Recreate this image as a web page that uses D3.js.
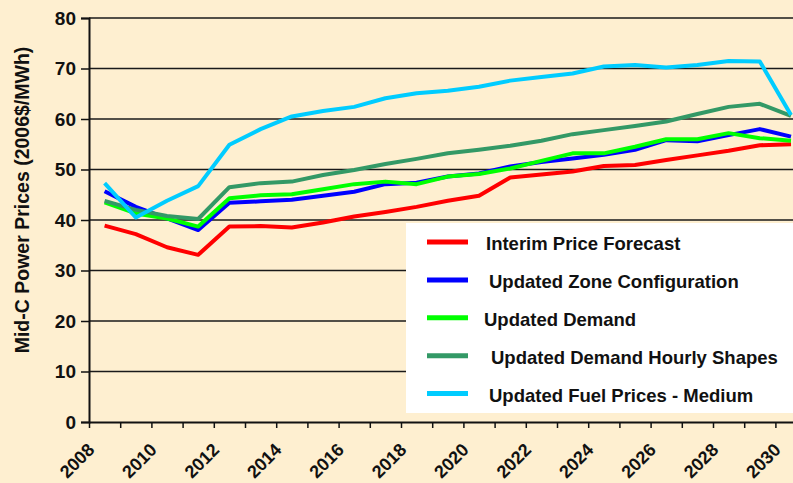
<!DOCTYPE html>
<html>
<head>
<meta charset="utf-8">
<script src="https://cdn.jsdelivr.net/npm/d3@7"></script>
<style>
  body { margin: 0; background: #FEEFD0; }
  text { font-family: Arial, "Liberation Sans", sans-serif; font-weight: bold; fill: #111; }
</style>
</head>
<body>
<div id="chart"></div>
<script>
const width = 793;
const height = 483;
const margin = { top: 18, left: 89, bottom: 61 };

// mid-year points 2008.5 .. 2030.5
const years = d3.range(2008, 2031);
const seriesNames = [
  'Interim Price Forecast',
  'Updated Zone Configuration',
  'Updated Demand',
  'Updated Demand Hourly Shapes',
  'Updated Fuel Prices - Medium'
];
const colors = ['#FF0000', '#0000FF', '#00FF00', '#339966', '#00CCFF'];

const interim = [38.9, 37.2, 34.6, 33.1, 38.7, 38.8, 38.5, 39.5, 40.7, 41.6, 42.6, 43.8, 44.8, 48.4, 49.0, 49.6, 50.7, 50.9, 51.9, 52.8, 53.7, 54.8, 55.0];
const zoneConfig = [45.7, 42.6, 40.3, 38.0, 43.4, 43.7, 44.0, 44.8, 45.6, 47.1, 47.4, 48.6, 49.2, 50.6, 51.5, 52.2, 52.9, 53.9, 55.8, 55.6, 56.8, 58.0, 56.5];
const demand = [43.5, 41.3, 40.3, 38.7, 44.3, 44.9, 45.1, 46.1, 47.1, 47.6, 47.1, 48.6, 49.1, 50.2, 51.7, 53.2, 53.2, 54.5, 56.0, 56.0, 57.2, 56.2, 55.7];
const hourlyShapes = [43.8, 42.0, 40.8, 40.2, 46.5, 47.3, 47.6, 48.9, 49.9, 51.1, 52.1, 53.2, 53.9, 54.7, 55.7, 57.0, 57.8, 58.6, 59.5, 61.0, 62.4, 63.0, 60.6];
const fuelMedium = [47.3, 40.5, 43.8, 46.7, 54.9, 58.0, 60.5, 61.6, 62.4, 64.1, 65.1, 65.6, 66.4, 67.6, 68.3, 69.0, 70.4, 70.7, 70.2, 70.7, 71.5, 71.4, 60.8];

const allSeries = [interim, zoneConfig, demand, hourlyShapes, fuelMedium];
const yTicks = [0, 10, 20, 30, 40, 50, 60, 70, 80];

const x = d3.scaleLinear()
  .domain([2008, 2031])
  .range([margin.left, margin.left + 23 * 31.2]);

const y = d3.scaleLinear()
  .domain([0, 80])
  .range([height - margin.bottom, margin.top]);

const svg = d3.select('#chart').append('svg')
  .attr('width', width)
  .attr('height', height)
  .style('background', '#FEEFD0');

// gridlines
svg.append('g')
  .selectAll('line')
  .data(yTicks.slice(1))
  .join('line')
    .attr('x1', margin.left)
    .attr('x2', width)
    .attr('y1', d => y(d))
    .attr('y2', d => y(d))
    .attr('stroke', '#1a1a1a')
    .attr('stroke-width', 1.3);

// y axis
const yAxis = svg.append('g')
  .attr('transform', `translate(${margin.left},0)`)
  .call(d3.axisLeft(y).tickValues(yTicks).tickSize(8).tickPadding(5));
yAxis.select('.domain').attr('stroke', '#111').attr('stroke-width', 2);
yAxis.selectAll('.tick line').attr('stroke', '#111').attr('stroke-width', 1.5);
yAxis.selectAll('.tick text')
  .attr('font-size', '19px')
  .attr('font-family', 'Arial, "Liberation Sans", sans-serif')
  .attr('font-weight', 'bold')
  .attr('fill', '#111');

// x axis
const xAxis = svg.append('g')
  .attr('transform', `translate(0,${height - margin.bottom})`)
  .call(d3.axisBottom(x).tickValues(d3.range(2008, 2032)).tickSize(6).tickSizeOuter(0)
    .tickFormat(d => d % 2 === 0 && d <= 2030 ? d : ''));
xAxis.select('.domain').attr('stroke', '#111').attr('stroke-width', 2);
xAxis.selectAll('.tick line').attr('stroke', '#111').attr('stroke-width', 1.5);
xAxis.selectAll('.tick text')
  .attr('font-size', '18px')
  .attr('font-family', 'Arial, "Liberation Sans", sans-serif')
  .attr('font-weight', 'bold')
  .attr('fill', '#111')
  .attr('text-anchor', 'end')
  .attr('dy', null)
  .attr('y', 0)
  .attr('transform', 'translate(6,29) rotate(-45)');

// y axis title
svg.append('text')
  .attr('transform', `translate(29, 200) rotate(-90)`)
  .attr('text-anchor', 'middle')
  .attr('font-size', '19.5px')
  .text('Mid-C Power Prices (2006$/MWh)');

// lines
const line = d3.line()
  .x((d, i) => x(years[i] + 0.5))
  .y(d => y(d));

svg.append('g')
  .selectAll('path')
  .data(allSeries)
  .join('path')
    .attr('fill', 'none')
    .attr('stroke', (d, i) => colors[i])
    .attr('stroke-width', 4)
    .attr('stroke-linejoin', 'round')
    .attr('d', line);

// legend
const legend = svg.append('g');
legend.append('rect')
  .attr('x', 406)
  .attr('y', 223)
  .attr('width', 400)
  .attr('height', 190)
  .attr('fill', '#fff');

const legendX = [486, 489, 484, 491, 489];
const items = legend.selectAll('g.item')
  .data(seriesNames)
  .join('g')
    .attr('class', 'item')
    .attr('transform', (d, i) => `translate(0, ${242 + i * 37.9})`);

items.append('line')
  .attr('x1', 427)
  .attr('x2', 468)
  .attr('stroke', (d, i) => colors[i])
  .attr('stroke-width', 5);

items.append('text')
  .attr('x', (d, i) => legendX[i])
  .attr('y', 8)
  .attr('font-size', '18.5px')
  .text(d => d);
</script>
</body>
</html>
